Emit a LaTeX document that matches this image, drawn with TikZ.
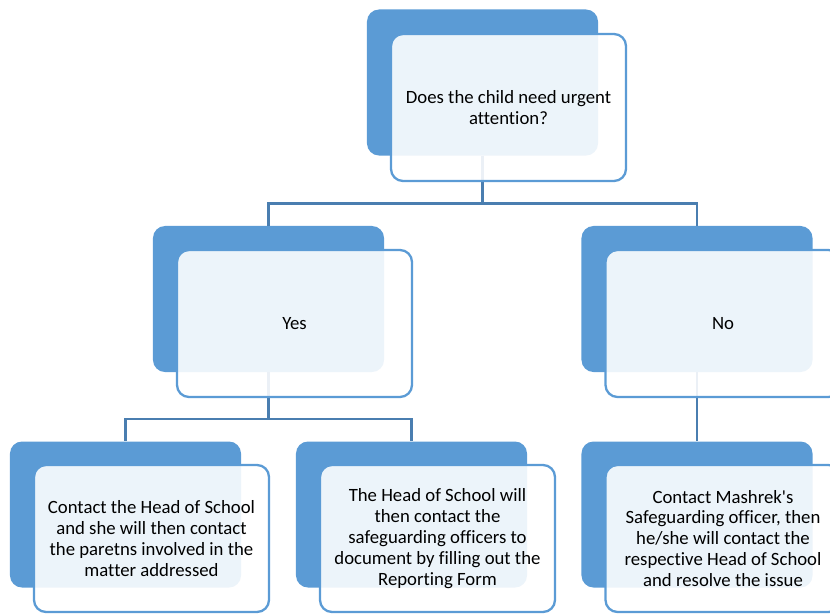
\documentclass[tikz,border=0pt]{standalone}
\usepackage{fontspec}
\setmainfont{Carlito}[Ligatures=NoCommon]
\usetikzlibrary{positioning}

\definecolor{accent}{HTML}{5B9BD5}
\definecolor{linkblue}{HTML}{4A7EB0}

\begin{document}
\begin{tikzpicture}[x=0.03cm,y=-0.03cm,
    backbox/.style={rectangle, rounded corners=0.36cm, fill=accent, inner sep=0pt,
        minimum width=6.93cm, minimum height=4.38cm},
    frontbox/.style={rectangle, rounded corners=0.36cm, draw=accent, line width=0.07cm,
        fill=white, fill opacity=0.89, text opacity=1, align=center, inner sep=0pt,
        minimum width=7.05cm, minimum height=4.41cm,
        font=\fontsize{16}{17.9}\selectfont},
    link/.style={draw=linkblue, line width=0.075cm}]

    \clip (0,0) rectangle (830,614);

    % Back (dark) boxes
    \node[backbox] (qb) at (482.5,82.5) {};
    \node[backbox] (yb) at (268.5,299) {};
    \node[backbox] (nb) at (697,299) {};
    \node[backbox] (cb) at (125.5,514.5) {};
    \node[backbox] (hb) at (411.5,514.5) {};
    \node[backbox] (mb) at (697,514.5) {};

    % Connectors
    \draw[link] (qb.south) -- ++(0,48) -| (yb.north);
    \draw[link] (qb.south) -- ++(0,48) -| (nb.north);
    \draw[link] (yb.south) -- ++(0,47) -| (cb.north);
    \draw[link] (yb.south) -- ++(0,47) -| (hb.north);
    \draw[link] (nb.south) -- (mb.north);

    % Front boxes with the texts
    \node[frontbox] (qf) at ([shift={(26,25)}]qb) {Does the child need urgent\\attention?};
    \node[frontbox] (yf) at ([shift={(26,24.5)}]yb) {Yes};
    \node[frontbox] (nf) at ([shift={(26,24.5)}]nb) {No};
    \node[frontbox] (cf) at ([shift={(26,24)}]cb) {Contact the Head of School\\and she will then contact\\the paretns involved in the\\matter addressed};
    \node[frontbox] (hf) at ([shift={(26,24)}]hb) {The Head of School will\\then contact the\\safeguarding officers to\\document by filling out the\\Reporting Form};
    \node[frontbox] (mf) at ([shift={(26,24)}]mb) {Contact Mashrek\textquotesingle s\\Safeguarding officer, then\\he/she will contact the\\respective Head of School\\and resolve the issue};

\end{tikzpicture}
\end{document}
